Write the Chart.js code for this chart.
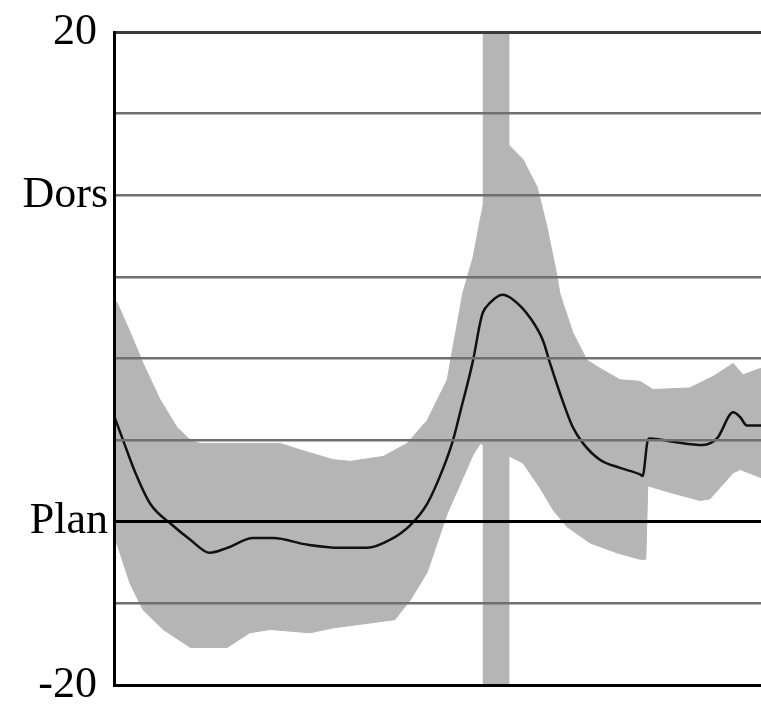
<!DOCTYPE html>
<html>
<head>
<meta charset="utf-8">
<script src="https://cdn.jsdelivr.net/npm/chart.js@4"></script>
<style>
  html, body { margin: 0; padding: 0; background: #fff; }
  #wrap { width: 761px; height: 713px; }
</style>
</head>
<body>
<div id="wrap"><canvas id="grafica" width="761" height="713"></canvas></div>
<script>
// mean curve (percent of cycle, degrees)
const meanX = [0, 1.4, 3.3, 5.6, 9.0, 11.8, 14.8, 17.5, 21.5, 24.6, 29.8, 34.9, 39.1, 42.7, 45.8, 48.4, 50.9, 52.4, 53.5, 55.5, 56.6, 57.0, 58.1, 60.0, 61.7, 64.3, 66.3, 67.4, 68.9, 70.9, 72.5, 75.1, 78.2, 81.3, 81.7, 82.5, 82.8, 86.4, 91.0, 93.2, 95.7, 96.8, 97.8, 100];
const meanY = [-3.5, -5.0, -7.0, -8.9, -10.2, -11.1, -11.9, -11.6, -11.0, -11.0, -11.4, -11.6, -11.6, -11.1, -10.2, -8.9, -6.7, -5.0, -3.3, -0.1, 2.2, 2.8, 3.4, 3.9, 3.6, 2.5, 1.1, -0.3, -2.1, -4.2, -5.2, -6.2, -6.7, -7.1, -7.2, -5.0, -4.9, -5.1, -5.3, -4.9, -3.3, -3.6, -4.1, -4.1];

// upper edge of the grey band
const upperX = [0, 0.5, 2.5, 4.5, 7.1, 9.7, 11.8, 13.3, 25.7, 28.8, 33.9, 36.5, 41.6, 45.3, 48.4, 51.5, 52.4, 53.9, 55.5, 56.6, 58.4, 59.7, 60.7, 63.2, 65.4, 66.9, 68.5, 68.9, 70.9, 73.1, 75.1, 78.2, 81.3, 83.3, 89.0, 92.6, 95.7, 97.2, 100];
const upperY = [3.6, 3.4, 1.6, -0.3, -2.5, -4.2, -5.0, -5.2, -5.2, -5.6, -6.2, -6.3, -6.0, -5.2, -3.8, -1.3, 0.7, 4.0, 6.2, 8.5, 12.0, 13.3, 13.2, 12.2, 10.5, 8.1, 5.0, 4.0, 1.6, -0.1, -0.6, -1.3, -1.4, -1.9, -1.8, -1.1, -0.3, -1.0, -0.6];

// lower edge of the grey band
const lowerX = [0, 2.5, 4.5, 7.6, 11.8, 17.5, 21.0, 24.1, 30.3, 33.9, 43.4, 45.8, 48.4, 51.5, 55.5, 56.6, 58.9, 61.2, 63.2, 65.8, 67.9, 70.0, 73.6, 77.7, 81.3, 82.2, 82.5, 85.9, 90.6, 92.1, 95.7, 96.8, 100];
const lowerY = [-10.8, -13.8, -15.4, -16.6, -17.7, -17.7, -16.8, -16.6, -16.8, -16.5, -16.0, -14.8, -13.1, -9.5, -5.9, -5.2, -5.7, -6.0, -6.4, -7.9, -9.3, -10.3, -11.3, -11.9, -12.3, -12.3, -7.8, -8.2, -8.7, -8.6, -7.0, -6.8, -7.3];

// vertical marker
const markerX = [57.0, 61.0];

// y axis labels
const tickValues = [20, 10, -10, -20];
const tickLabels = ["20 ", "Dors", "Plan", "-20 "];

const gris = "#b5b5b5";

const meanPts = meanX.map((x, i) => ({ x: x, y: meanY[i] }));
const bandPts = upperX.map((x, i) => ({ x: x, y: upperY[i] }))
  .concat(lowerX.map((x, i) => ({ x: x, y: lowerY[i] })).reverse());
const markerPts = [
  { x: markerX[0], y: 20 }, { x: markerX[1], y: 20 },
  { x: markerX[1], y: -20 }, { x: markerX[0], y: -20 }
];

const ctx = document.getElementById("grafica").getContext("2d");

const chart = new Chart(ctx, {
  type: "line",
  data: {
    datasets: [
      {
        data: meanPts,
        borderColor: "#111",
        borderWidth: 2.5,
        pointRadius: 0,
        cubicInterpolationMode: "monotone",
        fill: false
      },
      {
        data: bandPts,
        borderColor: gris,
        borderWidth: 1,
        backgroundColor: gris,
        pointRadius: 0,
        tension: 0,
        fill: "shape"
      },
      {
        data: markerPts,
        borderColor: gris,
        borderWidth: 1,
        backgroundColor: gris,
        pointRadius: 0,
        tension: 0,
        fill: "shape"
      }
    ]
  },
  options: {
    responsive: false,
    animation: false,
    layout: { padding: { top: 32, bottom: 28, left: 0, right: 0 } },
    plugins: { legend: { display: false }, tooltip: { enabled: false } },
    scales: {
      x: {
        type: "linear",
        min: 0,
        max: 100,
        ticks: { display: false },
        grid: { display: false, drawTicks: false },
        border: { display: true, color: "#000", width: 3, z: 1 },
        afterFit: (scale) => { scale.height = 0; }
      },
      y: {
        min: -20,
        max: 20,
        afterFit: (scale) => {
          scale.width = 114;
          scale.paddingTop = 0;
          scale.paddingBottom = 0;
        },
        ticks: {
          stepSize: 5,
          autoSkip: false,
          padding: 6,
          color: "#000",
          font: { family: "'Liberation Serif', 'DejaVu Serif', serif", size: 44 },
          callback: (v) => {
            const k = tickValues.indexOf(v);
            return k >= 0 ? tickLabels[k] : "";
          }
        },
        grid: {
          z: 1,
          drawTicks: false,
          color: (c) => {
            const v = c.tick ? c.tick.value : 0;
            if (v === -10 || v === -20) return "#000";
            if (v === 20) return "#3a3a3a";
            return "#707070";
          },
          lineWidth: (c) => {
            const v = c.tick ? c.tick.value : 0;
            if (v === -10 || v === -20 || v === 20) return 3;
            return 2.5;
          }
        },
        border: { display: true, color: "#000", width: 3, z: 1 }
      }
    }
  }
});
</script>
</body>
</html>
